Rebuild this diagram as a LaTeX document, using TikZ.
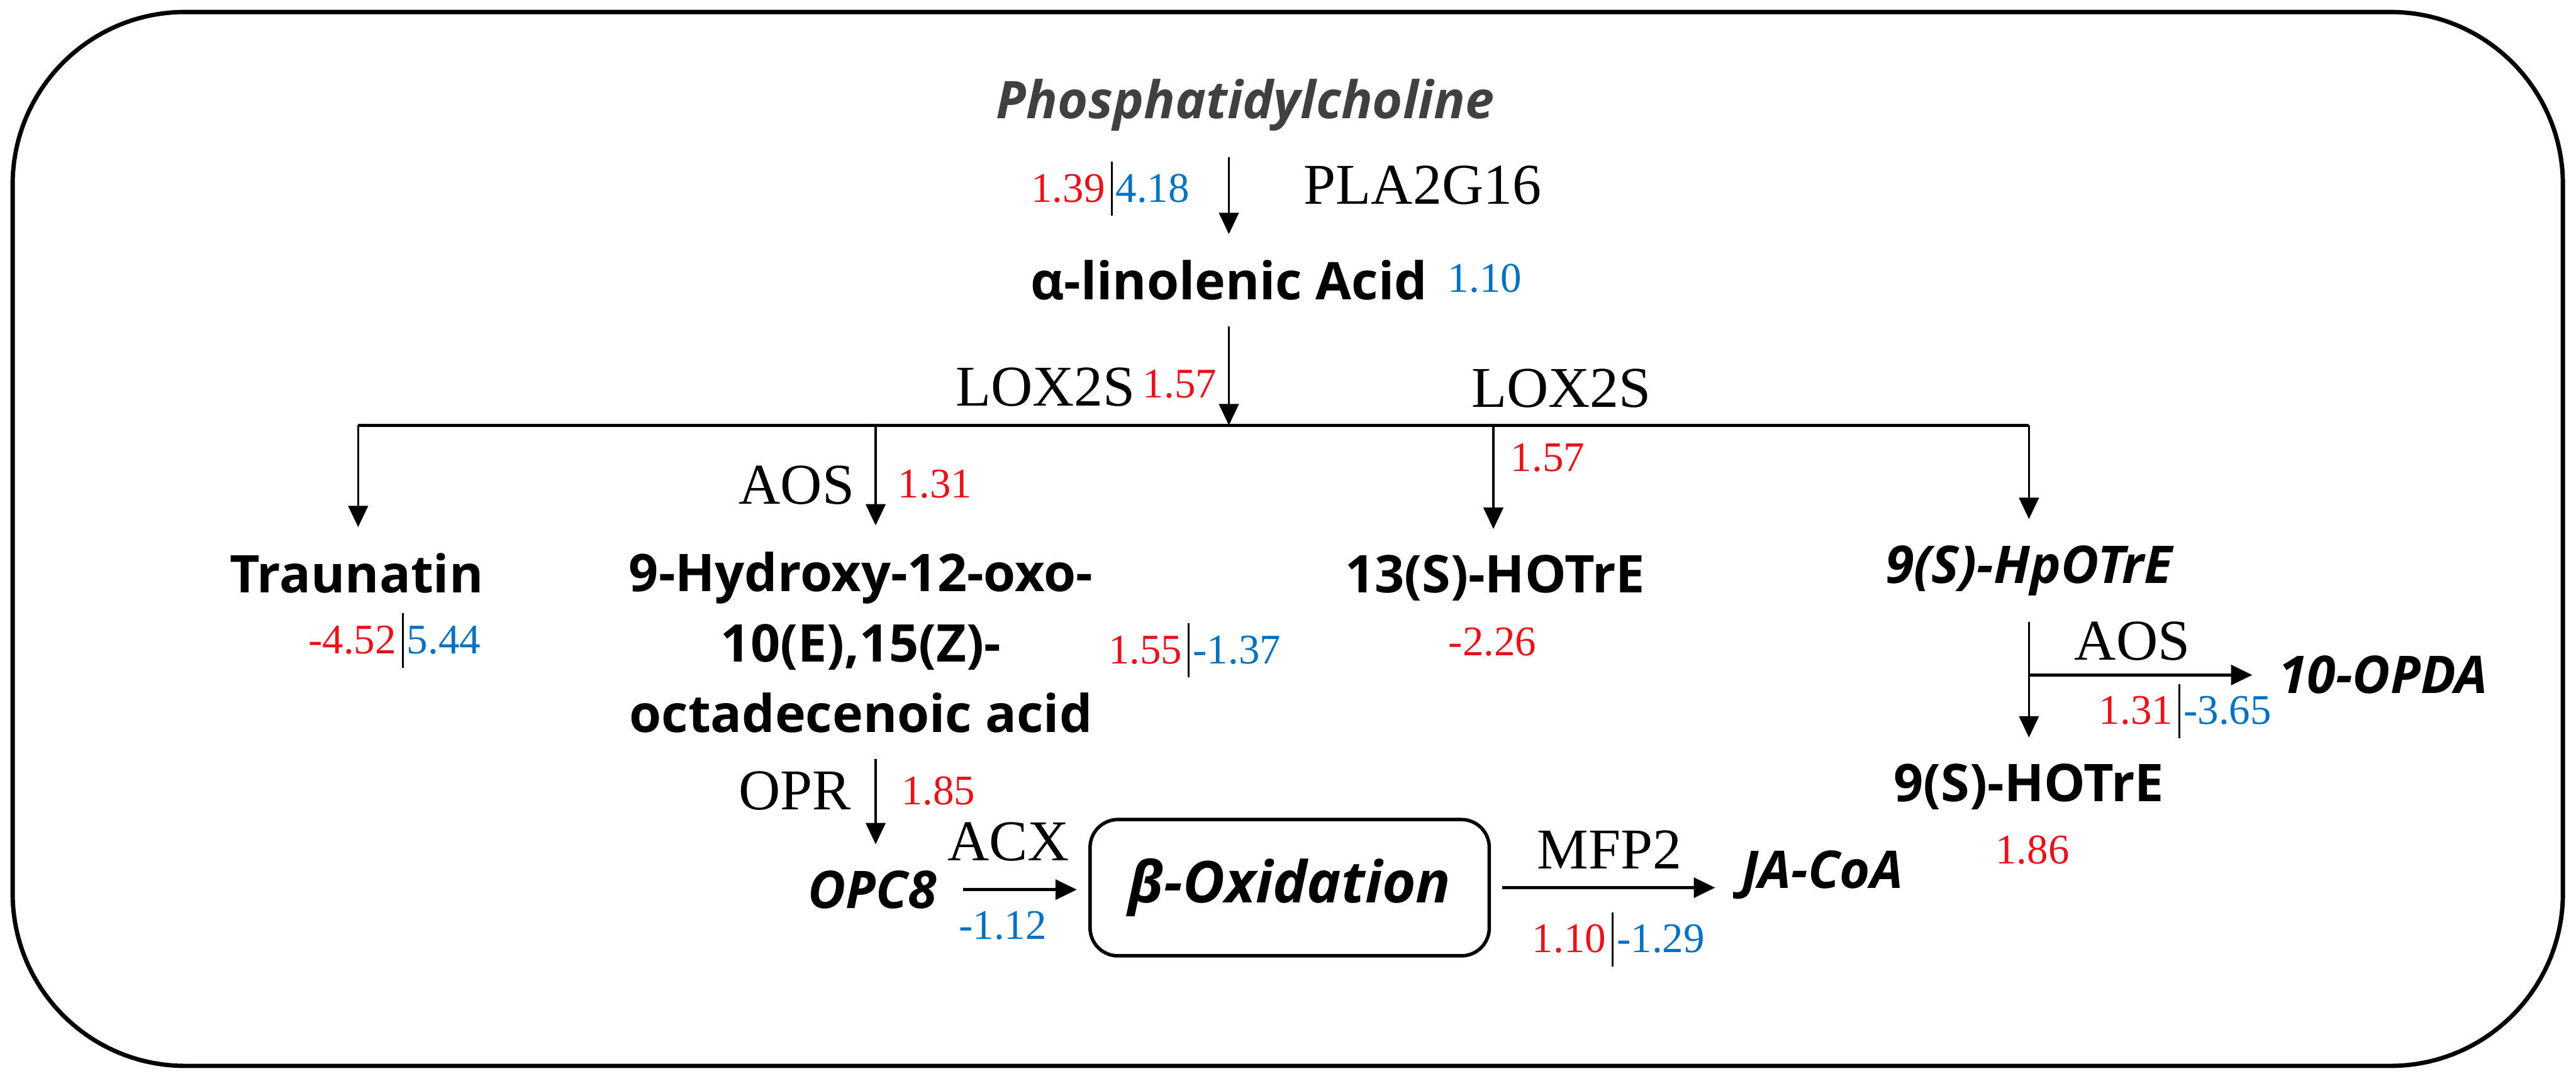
\documentclass[tikz,border=0pt]{standalone}
\usepackage{fontspec}
\setmainfont{Liberation Serif}
\newfontfamily\cmpdfont{Open Sans}
\definecolor{FCRed}{HTML}{E8121A}
\definecolor{FCBlue}{HTML}{0070C0}
\definecolor{FCGray}{HTML}{404040}
\usetikzlibrary{positioning,arrows.meta,calc}
\newcommand{\fcpair}[2]{\textcolor{FCRed}{#1}\hspace{0.35mm}\rule[-0.85mm]{0.3pt}{3.3mm}\hspace{0.2mm}\textcolor{FCBlue}{#2}}

\begin{document}
\begin{tikzpicture}[x=1cm, y=-1cm,
    cmpd/.style={font=\cmpdfont\bfseries\fontsize{9}{12.2}\selectfont, inner sep=0pt, outer sep=1.6mm, anchor=base},
    cmpdit/.style={cmpd, font=\cmpdfont\bfseries\itshape\fontsize{9}{12.2}\selectfont},
    enz/.style={font=\fontsize{10}{12}\selectfont, inner sep=0pt, anchor=base west},
    fc/.style={font=\fontsize{7.3}{9}\selectfont, inner sep=0pt, anchor=base west},
    arr/.style={-{Triangle[length=1.3mm, width=1.2mm]}, line width=0.35pt},
    harr/.style={arr, line width=0.6pt}]
      \useasboundingbox (0,0) rectangle (15.68,6.58);
      \draw[line width=0.75pt, rounded corners=1.05cm] (0.077,0.073) rectangle (15.60,6.49);

      \node[cmpdit, text=FCGray] (phos) at (7.58,0.72) {Phosphatidylcholine};
      \node[cmpd] (ala) at (7.48,1.826) {α-linolenic Acid};
      \node[cmpd] (trau) at (2.17,3.61) {Traunatin};
      \node[cmpd, align=center, anchor=center] (hyd) at (5.24,3.91) {9-Hydroxy-12-oxo-\\10(E),15(Z)-\\octadecenoic acid};
      \node[cmpd] (hot13) at (9.10,3.61) {13(S)-HOTrE};
      \node[cmpdit] (hpo) at (12.35,3.55) {9(S)-HpOTrE};
      \node[cmpdit, anchor=base west] (opda) at (13.71,4.22) {10-OPDA};
      \node[cmpd] (hot9) at (12.35,4.88) {9(S)-HOTrE};
      \node[cmpdit] (opc) at (5.31,5.53) {OPC8};
      \node[draw, rounded corners=1.7mm, line width=0.6pt, minimum width=2.43cm, minimum height=0.83cm, outer sep=0.8mm,
            font=\cmpdfont\bfseries\itshape\fontsize{10}{12}\selectfont] (box) at (7.85,5.405) {β-Oxidation};
      \node[cmpdit, anchor=base west] (jacoa) at (10.44,5.41) {JA-CoA};

      \node[enz] (pla) at (7.93,1.244) {PLA2G16};
      \node[fc] (plav) at (6.27,1.23) {\fcpair{1.39}{4.18}};
      \node[fc, text=FCBlue] (alav) at (8.807,1.78) {1.10};
      \node[enz] (lox1) at (5.81,2.47) {LOX2S};
      \node[fc, text=FCRed] (lox1v) at (6.95,2.42) {1.57};
      \node[enz] (lox2) at (8.95,2.48) {LOX2S};
      \node[fc, text=FCRed] (lox2v) at (9.19,2.87) {1.57};
      \node[enz] (aos1) at (4.49,3.07) {AOS};
      \node[fc, text=FCRed] (aos1v) at (5.46,3.03) {1.31};
      \node[fc] (trauv) at (1.87,3.98) {\fcpair{-4.52}{5.44}};
      \node[fc] (hydv) at (6.74,4.04) {\fcpair{1.55}{-1.37}};
      \node[fc, text=FCRed] (hot13v) at (8.81,3.99) {-2.26};
      \node[enz] (aos2) at (12.62,4.02) {AOS};
      \node[fc] (opdav) at (12.77,4.41) {\fcpair{1.31}{-3.65}};
      \node[fc, text=FCRed] (hot9v) at (12.14,5.258) {1.86};
      \node[enz] (opr) at (4.49,4.93) {OPR};
      \node[fc, text=FCRed] (oprv) at (5.48,4.90) {1.85};
      \node[enz] (acx) at (5.76,5.24) {ACX};
      \node[fc, text=FCBlue] (acxv) at (5.83,5.72) {-1.12};
      \node[enz] (mfp) at (9.35,5.29) {MFP2};
      \node[fc] (mfpv) at (9.32,5.80) {\fcpair{1.10}{-1.29}};

      \coordinate (br) at (7.48,2.59);
      \coordinate (brL) at (2.18,2.59);
      \coordinate (b2) at (5.33,2.59);
      \coordinate (b3) at (9.09,2.59);
      \coordinate (brR) at (12.35,2.59);
      \coordinate (aosfork) at (12.35,4.11);

      \draw[arr] (phos.south -| ala.north) -- (ala.north);
      \draw[arr] (ala.south -| br) -- (br);
      \draw[line width=0.6pt] (brL) -- (brR);
      \draw[arr] (brL) -- (brL |- trau.north);
      \draw[arr] (b2) -- (b2 |- hyd.north);
      \draw[arr] (b3) -- (b3 |- hot13.north);
      \draw[arr] (brR) -- (hpo.north);
      \draw[arr] (hpo.south) -- (hot9.north);
      \draw[harr] (aosfork) -- (aosfork -| opda.west);
      \draw[arr] (hyd.south -| b2) -- (b2 |- opc.north);
      \draw[harr] (opc.east) -- (opc.east -| box.west);
      \draw[harr] (box.east) -- (box.east -| jacoa.west);
    \end{tikzpicture}
\end{document}
